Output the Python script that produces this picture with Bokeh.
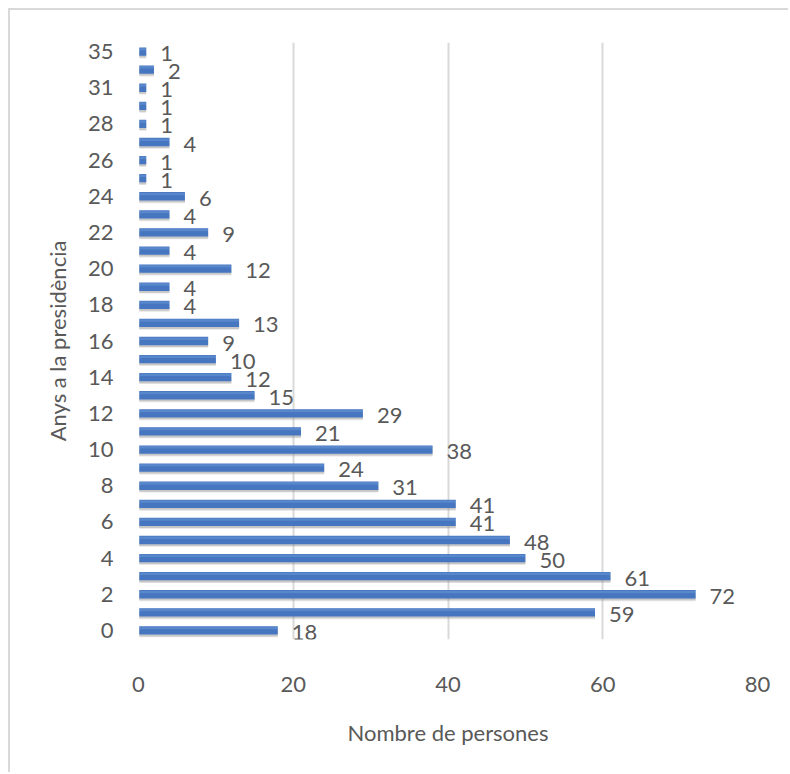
from bokeh.plotting import figure
from bokeh.models import ColumnDataSource, FixedTicker, LabelSet, Range1d
from bokeh.core.properties import value
from bokeh.transform import dodge
from bokeh.embed import file_html
from bokeh.resources import INLINE

# Years in the presidency (category labels, bottom to top)
years = ["0", "1", "2", "3", "4", "5", "6", "7", "8", "9", "10", "11", "12",
         "13", "14", "15", "16", "17", "18", "19", "20", "21", "22", "23",
         "24", "25", "26", "27", "28", "30", "31", "33", "35"]
# Number of persons
persons = [18, 59, 72, 61, 50, 48, 41, 41, 31, 24, 38, 21, 29,
           15, 12, 10, 9, 13, 4, 4, 12, 4, 9, 4,
           6, 1, 1, 4, 1, 1, 1, 2, 1]
x_ticks = [0, 20, 40, 60, 80]

FONT = "Lato"
GREY = "#595959"

idx = list(range(len(years)))
src = ColumnDataSource(dict(y=idx, v=persons, lab=[str(v) for v in persons]))

p = figure(width=780, height=764, output_backend="svg", toolbar_location=None,
           x_range=Range1d(0, 80), y_range=Range1d(-0.5, len(years) - 0.5),
           min_border_left=128, min_border_right=33, min_border_top=32,
           min_border_bottom=135)
p.outline_line_color = None
p.styles = {"margin-left": "8px", "margin-top": "8px",
            "border-top": "2px solid #d9d9d9", "border-left": "2px solid #d9d9d9"}

# soft drop shadow under each bar
p.hbar(y=dodge("y", -0.2), left=0.1, right="v", height=0.36, source=src,
       fill_color="#9a9a9a", fill_alpha=0.25, line_color=None)
p.hbar(y=dodge("y", -0.15), left=0.1, right="v", height=0.36, source=src,
       fill_color="#8a8a8a", fill_alpha=0.35, line_color=None)

# bar body and lighter top highlight
p.hbar(y="y", left=0.1, right="v", height=0.46, source=src,
       fill_color="#4676c0", line_color=None)
p.hbar(y=dodge("y", 0.13), left=0.1, right="v", height=0.14, source=src,
       fill_color="#6a96d4", fill_alpha=0.55, line_color=None)

labels = LabelSet(x="v", y="y", text="lab", source=src, x_offset=14, y_offset=-2,
                  text_baseline="middle", text_align="left",
                  text_font=value(FONT), text_font_size="22px", text_color=GREY)
p.add_layout(labels)

p.xaxis.ticker = FixedTicker(ticks=x_ticks)
p.yaxis.ticker = FixedTicker(ticks=idx[::2])
p.yaxis.major_label_overrides = {i: years[i] for i in idx}

for ax in (p.xaxis[0], p.yaxis[0]):
    ax.axis_line_color = None
    ax.major_tick_line_color = None
    ax.minor_tick_line_color = None
    ax.major_label_text_font = FONT
    ax.major_label_text_font_size = "22px"
    ax.major_label_text_color = GREY
    ax.axis_label_text_font = FONT
    ax.axis_label_text_font_size = "22px"
    ax.axis_label_text_color = GREY
    ax.axis_label_text_font_style = "normal"

p.xaxis.axis_label = "Nombre de persones"
p.yaxis.axis_label = "Anys a la presidència"
p.xaxis.major_label_standoff = 31
p.xaxis.axis_label_standoff = 24
p.yaxis.major_label_standoff = 19
p.yaxis.axis_label_standoff = 14

p.xgrid.grid_line_color = "#d9d9d9"
p.xgrid.grid_line_width = 2
p.ygrid.grid_line_color = None

open("out.html", "w").write(file_html(p, INLINE))
